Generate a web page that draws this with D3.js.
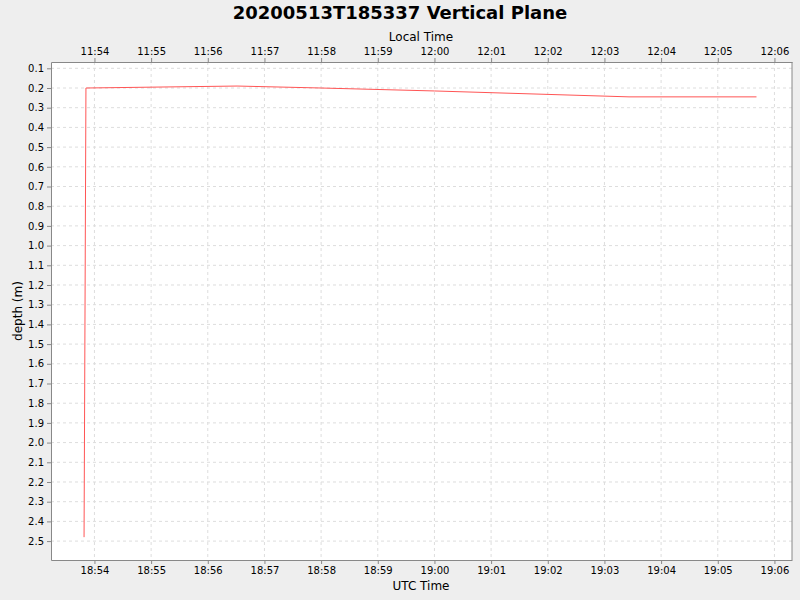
<!DOCTYPE html><html><head><meta charset="utf-8"><script src="https://cdn.jsdelivr.net/npm/d3@7"></script>
<style>body{margin:0;background:#eeeeee;font-family:"DejaVu Sans",sans-serif}</style></head><body><svg id="c" width="800" height="600"></svg>
<script>
const times = ["18:53:49","18:53:51","18:56:31","18:58:00","19:00:00","19:03:26","19:05:41"];
const depths = [2.48,0.2,0.19,0.2,0.215,0.245,0.245];
const yTicks = d3.range(1,26).map(i=>i/10);
const title = "20200513T185337 Vertical Plane";
const day = "2020-05-13T";
const parse = s => new Date(day+s+"Z");
const svg = d3.select("#c");
const L=51,R=792,T=62,B=560;
const x = d3.scaleUtc().domain([parse("18:53:14"),parse("19:06:18.6")]).range([L,R]);
const y = d3.scaleLinear().domain([0.068,2.596]).range([T,B]);
svg.append("rect").attr("x",L).attr("y",T).attr("width",R-L).attr("height",B-T).attr("fill","#fff");
const xt = x.ticks(d3.utcMinute.every(1));
const g = svg.append("g").attr("stroke","#dddddd").attr("stroke-dasharray","3,3");
xt.forEach(t=>g.append("line").attr("x1",x(t)).attr("x2",x(t)).attr("y1",T).attr("y2",B));
yTicks.forEach(v=>g.append("line").attr("x1",L).attr("x2",R).attr("y1",y(v)).attr("y2",y(v)));
const fmtU = d3.utcFormat("%H:%M");
const fmtL = t=>fmtU(new Date(t.getTime()-7*3600e3));
const ax = (sel)=>{sel.selectAll("text").attr("font-size",10).attr("font-family","DejaVu Sans").attr("fill","#000");sel.selectAll("line").attr("stroke","#888");sel.select(".domain").attr("stroke","#888");};
svg.append("g").attr("transform",`translate(0,${B})`).call(d3.axisBottom(x).tickValues(xt).tickFormat(fmtU).tickSize(4).tickSizeOuter(0)).call(ax);
svg.append("g").attr("transform",`translate(0,${T})`).call(d3.axisTop(x).tickValues(xt).tickFormat(fmtL).tickSize(4).tickSizeOuter(0)).call(ax);
svg.append("g").attr("transform",`translate(${L},0)`).call(d3.axisLeft(y).tickValues(yTicks).tickFormat(d3.format(".1f")).tickSize(4).tickSizeOuter(0)).call(ax);
svg.append("line").attr("x1",R).attr("x2",R).attr("y1",T).attr("y2",B).attr("stroke","#888");
const data = times.map((t,i)=>({t:parse(t),d:depths[i]}));
svg.append("path").datum(data).attr("fill","none").attr("stroke","#ff5555").attr("stroke-width",1)
 .attr("d",d3.line().x(d=>x(d.t)).y(d=>y(d.d)));
svg.append("text").attr("x",400).attr("y",19).attr("text-anchor","middle").attr("font-size",18).attr("font-weight","bold").text(title);
svg.append("text").attr("x",421).attr("y",41).attr("text-anchor","middle").attr("font-size",12).text("Local Time");
svg.append("text").attr("x",421).attr("y",590).attr("text-anchor","middle").attr("font-size",12).text("UTC Time");
svg.append("text").attr("transform","translate(22,311) rotate(-90)").attr("text-anchor","middle").attr("font-size",12).text("depth (m)");
</script></body></html>
